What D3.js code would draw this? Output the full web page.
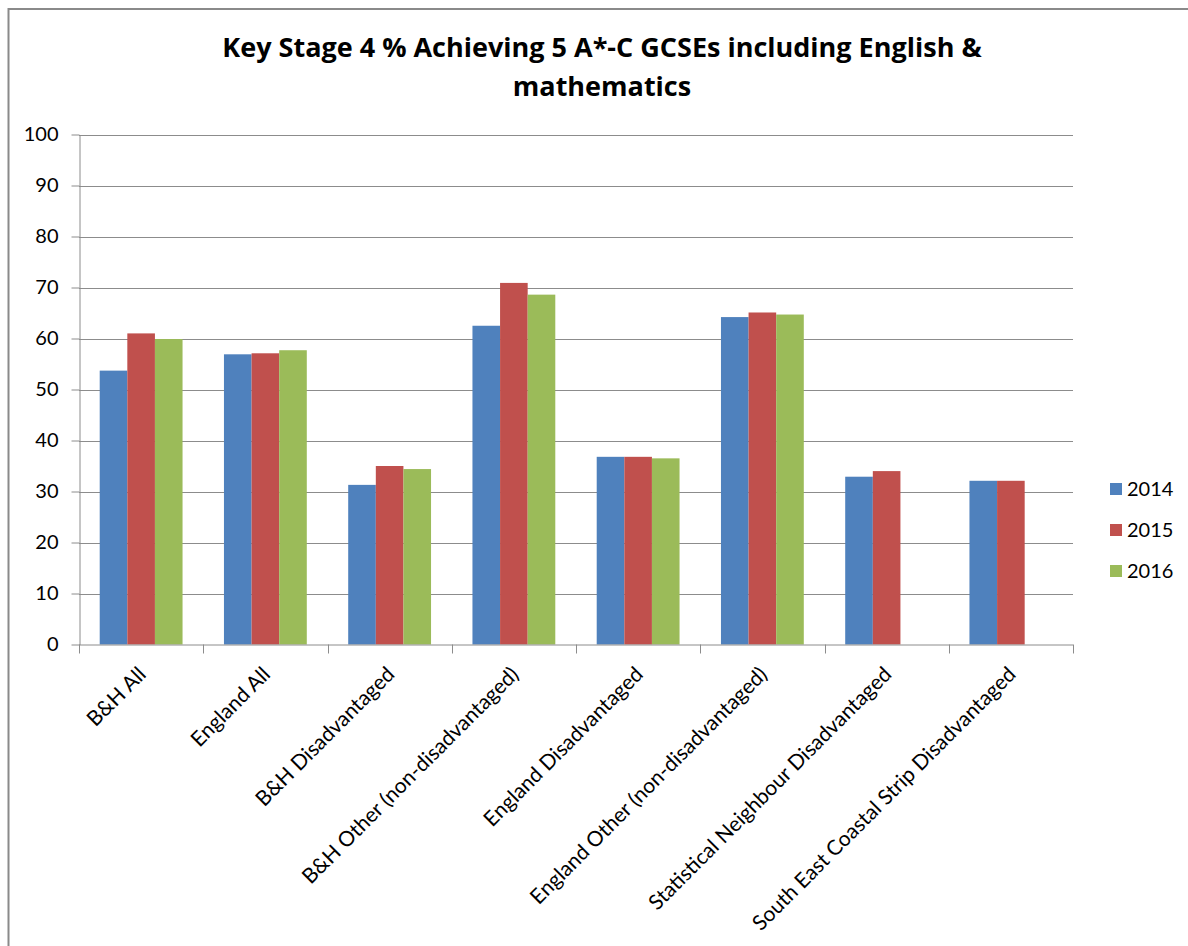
<!DOCTYPE html>
<html>
<head>
<meta charset="utf-8">
<script src="https://cdn.jsdelivr.net/npm/d3@7"></script>
<style>
  html, body { margin: 0; padding: 0; background: #fff; }
  svg { display: block; }
  text { fill: #000; }
</style>
</head>
<body>
<svg id="chart" width="1188" height="946"></svg>
<script>
// Key Stage 4 attainment by group and year
const categories = [
  "B&H All",
  "England All",
  "B&H Disadvantaged",
  "B&H Other (non-disadvantaged)",
  "England Disadvantaged",
  "England Other (non-disadvantaged)",
  "Statistical Neighbour Disadvantaged",
  "South East Coastal Strip Disadvantaged"
];
const years = ["2014", "2015", "2016"];
const values2014 = [53.7, 56.9, 31.3, 62.5, 36.8, 64.2, 32.9, 32.1];
const values2015 = [61.0, 57.1, 35.0, 70.9, 36.8, 65.1, 34.0, 32.1];
const values2016 = [59.9, 57.7, 34.4, 68.6, 36.5, 64.7, null, null];
const yTicks = [0, 10, 20, 30, 40, 50, 60, 70, 80, 90, 100];
const colors = ["#4F81BD", "#C0504D", "#9BBB59"];

const bodyFont = "Lato, 'Open Sans', sans-serif";
const titleFont = "'Open Sans', Lato, sans-serif";

const seriesValues = [values2014, values2015, values2016];
const rows = [];
categories.forEach((c, i) => {
  years.forEach((y, j) => {
    const v = seriesValues[j][i];
    if (v != null) rows.push({ category: c, year: y, value: v });
  });
});

const svg = d3.select("#chart").style("font-family", bodyFont);

// outer chart frame
svg.append("rect")
  .attr("x", 8.5).attr("y", 9)
  .attr("width", 1200).attr("height", 960)
  .attr("fill", "none")
  .attr("stroke", "#8a8a8a")
  .attr("stroke-width", 2);

// title
const title = svg.append("text")
  .attr("text-anchor", "middle")
  .style("font-family", titleFont)
  .style("font-weight", "bold")
  .style("font-size", "27px");
title.append("tspan").attr("x", 602).attr("y", 57)
  .text("Key Stage 4 % Achieving 5 A*-C GCSEs including English &");
title.append("tspan").attr("x", 602).attr("y", 96)
  .text("mathematics");

const plot = { left: 79, right: 1073, top: 134.5, bottom: 644.5 };

const x0 = d3.scaleBand()
  .domain(categories)
  .range([plot.left, plot.right])
  .paddingInner(0)
  .paddingOuter(0);

const x1 = d3.scaleBand()
  .domain(years)
  .range([0, x0.bandwidth()])
  .paddingInner(0)
  .paddingOuter(0.75);

const y = d3.scaleLinear()
  .domain([0, 100])
  .range([plot.bottom, plot.top]);

const color = d3.scaleOrdinal().domain(years).range(colors);

// horizontal gridlines
svg.append("g")
  .selectAll("line")
  .data(yTicks.filter(t => t > 0))
  .join("line")
  .attr("x1", plot.left).attr("x2", plot.right)
  .attr("y1", d => Math.round(y(d)) + 0.5)
  .attr("y2", d => Math.round(y(d)) + 0.5)
  .attr("stroke", "#8c8c8c")
  .attr("stroke-width", 1);

// y axis
const yAxis = svg.append("g")
  .attr("transform", `translate(${plot.left + 0.5},0)`)
  .call(d3.axisLeft(y).tickValues(yTicks).tickSize(8).tickPadding(13).tickSizeOuter(0));
yAxis.select(".domain").attr("stroke", "#8c8c8c");
yAxis.selectAll(".tick line").attr("stroke", "#8c8c8c");
yAxis.selectAll(".tick text")
  .style("font-family", bodyFont)
  .style("font-size", "20px")
  .attr("fill", "#000");

// bars
svg.append("g")
  .selectAll("rect")
  .data(rows)
  .join("rect")
  .attr("x", d => x0(d.category) + x1(d.year))
  .attr("y", d => y(d.value))
  .attr("width", x1.bandwidth())
  .attr("height", d => y(0) - y(d.value))
  .attr("fill", d => color(d.year));

// x axis with ticks at category boundaries
const xg = svg.append("g");
xg.append("line")
  .attr("x1", plot.left).attr("x2", plot.right)
  .attr("y1", plot.bottom + 0.5).attr("y2", plot.bottom + 0.5)
  .attr("stroke", "#8c8c8c");
const bounds = categories.map(c => x0(c)).concat([plot.right]);
xg.selectAll("line.tick")
  .data(bounds)
  .join("line")
  .attr("class", "tick")
  .attr("x1", d => Math.round(d) + 0.5).attr("x2", d => Math.round(d) + 0.5)
  .attr("y1", plot.bottom).attr("y2", plot.bottom + 9)
  .attr("stroke", "#8c8c8c");

xg.selectAll("text")
  .data(categories)
  .join("text")
  .attr("text-anchor", "end")
  .style("font-size", "21px")
  .attr("transform", d => `translate(${x0(d) + x0.bandwidth() / 2 + 1},${plot.bottom + 26}) rotate(-45)`)
  .attr("dy", "0.35em")
  .text(d => d);

// legend
const legend = svg.append("g")
  .selectAll("g")
  .data(years)
  .join("g")
  .attr("transform", (d, i) => `translate(1110,${489 + i * 41})`);
legend.append("rect")
  .attr("x", 0).attr("y", -6)
  .attr("width", 12).attr("height", 12)
  .attr("fill", d => color(d));
legend.append("text")
  .attr("x", 17).attr("y", 0)
  .attr("dy", "0.35em")
  .style("font-size", "20px")
  .text(d => d);
</script>
</body>
</html>
